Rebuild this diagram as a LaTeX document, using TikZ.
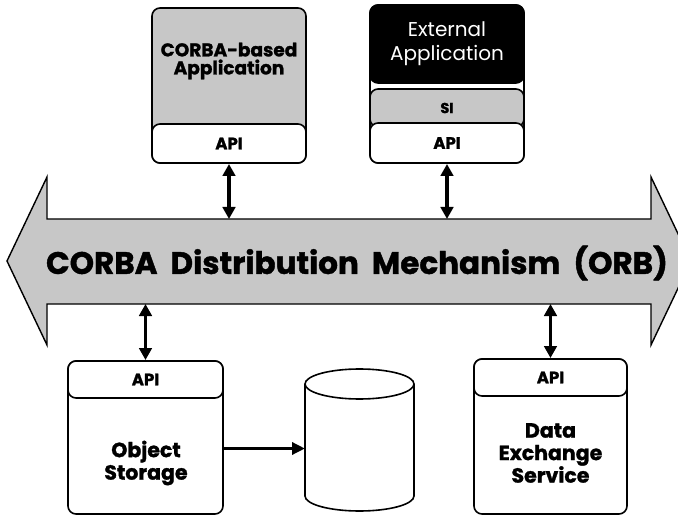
\documentclass[tikz,border=0pt]{standalone}
\usepackage{fontspec}
\setmainfont{Poppins}[BoldFeatures={FakeBold=1.3}]
\usetikzlibrary{arrows.meta}
\begin{document}
\begin{tikzpicture}[x=1pt,y=-1pt,
  frame/.style={draw=black, line width=1.6pt, rounded corners=8pt, inner sep=0pt, outer sep=0pt},
  screen/.style={fill=black!22},
  apilabel/.style={font=\fontsize{16.5}{18}\selectfont\bfseries},
  boxtext/.style={font=\fontsize{20.5}{22.5}\selectfont\bfseries, align=center},
  link/.style={line width=3.4pt, {Triangle[length=12pt,width=12.5pt]}-{Triangle[length=12pt,width=12.5pt]}},
  flow/.style={line width=3.4pt, -{Triangle[length=13pt,width=12pt]}}
]
\clip (0,0) rectangle (678,516);

% --- ORB: the broad double-headed arrow ---
\draw[screen, line width=1.4pt, line join=miter]
  (7,261) -- (47,177) -- (47,219) -- (651,219) -- (651,177) -- (691,261)
  -- (651,345) -- (651,304) -- (47,304) -- (47,345) -- cycle;
\node[font=\fontsize{31}{33}\selectfont\bfseries] (orb) at (357,263)
  {CORBA\hspace{0.42em}Distribution\hspace{0.42em}Mechanism\hspace{0.42em}(ORB)};

% --- CORBA-based application ---
\node[frame, screen, minimum width=154pt, minimum height=155pt, anchor=north west] (corba) at (152,8) {};
\node[frame, fill=white, minimum width=154pt, minimum height=39pt, anchor=south, apilabel] (corbaapi) at (corba.south) {API};
\node[font=\fontsize{18.5}{18}\selectfont\bfseries, align=center] (corbatext) at (229,61) {CORBA-based\\Application};

% --- External application with its SI layer ---
\node[frame, fill=white, minimum width=154pt, minimum height=158pt, anchor=north west] (extbox) at (370,5) {};
\node[frame, screen, minimum width=154pt, minimum height=38pt, anchor=north west,
      font=\fontsize{14.5}{16}\selectfont\bfseries] (extsi) at (370,89) {SI};
\node[frame, fill=white, minimum width=154pt, minimum height=40pt, anchor=south, apilabel] (extapi) at (extbox.south) {API};
\node[frame, fill=black, text=white, minimum width=154pt, minimum height=78pt, anchor=north west,
      font=\fontsize{20}{24}\selectfont, align=center] (ext) at (370,5) {External\\Application};

% --- Object storage ---
\node[frame, fill=white, minimum width=155pt, minimum height=153pt, anchor=north west] (objbox) at (68,361) {};
\node[frame, fill=white, minimum width=155pt, minimum height=37pt, anchor=north, apilabel] (objapi) at (objbox.north) {API};
\node[boxtext] (objtext) at (146,463) {Object\\Storage};

% --- Database ---
\node[minimum width=109pt, minimum height=112pt, inner sep=0pt, outer sep=0pt] (db) at (359.5,440) {};
\draw[line width=1.6pt, fill=white]
  (db.north west) -- (db.south west) arc[start angle=180, end angle=360, x radius=54.5pt, y radius=15pt]
  -- (db.north east);
\draw[line width=1.6pt] (db.north) ellipse[x radius=54.5pt, y radius=15pt];

% --- Data exchange service ---
\node[frame, fill=white, minimum width=153pt, minimum height=155pt, anchor=north west] (dexbox) at (474,359) {};
\node[frame, fill=white, minimum width=153pt, minimum height=37pt, anchor=north, apilabel] (dexapi) at (dexbox.north) {API};
\node[boxtext] (dextext) at (550.5,453) {Data\\Exchange\\Service};

% --- connections to the ORB ---
\coordinate (orbA) at (corbaapi.south |- 0,219);
\coordinate (orbB) at (extapi.south |- 0,219);
\coordinate (orbC) at (objapi.north |- 0,304);
\coordinate (orbD) at (dexapi.north |- 0,304);
\draw[link] ([yshift=-1pt]corbaapi.south) -- (orbA);
\draw[link] ([yshift=-1pt]extapi.south) -- (orbB);
\draw[link] (orbC) -- ([yshift=1pt]objapi.north);
\draw[link] (orbD) -- ([yshift=1pt]dexapi.north);

% --- storage writes to the database ---
\coordinate (store) at ([yshift=-11pt]objbox.east);
\draw[flow] (store) -- (store -| db.west);
\end{tikzpicture}
\end{document}
